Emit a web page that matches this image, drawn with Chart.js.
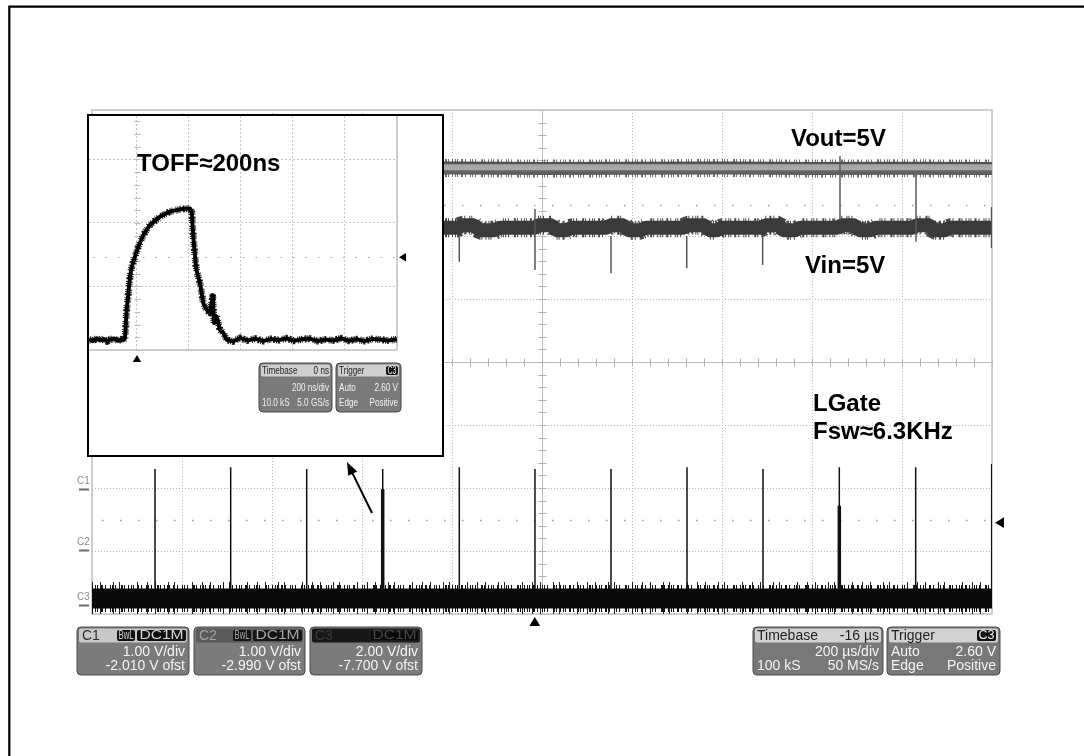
<!DOCTYPE html>
<html>
<head>
<meta charset="utf-8">
<title>LGate switching waveform</title>
<script src="https://cdn.jsdelivr.net/npm/chart.js@4.4.1/dist/chart.umd.min.js"></script>
<style>
html,body{margin:0;padding:0;background:#fff;overflow:hidden;}
#wrap{position:relative;width:1084px;height:756px;}
#main{position:absolute;left:0;top:0;width:1084px;height:756px;}
#insetBox{position:absolute;left:87px;top:114px;width:353px;height:339px;border:2px solid #000;background:#fff;}
#inset{display:block;width:353px;height:339px;}
</style>
</head>
<body>
<div id="wrap">
  <canvas id="main" width="1084" height="756"></canvas>
  <div id="insetBox"><canvas id="inset" width="353" height="339"></canvas></div>
</div>
<script>
// ---------- scope channel setup ----------
const channelNames = ['C1', 'C2', 'C3'];
const voltsPerDiv = [1.00, 1.00, 2.00];
const offsetVolts = [-2.010, -2.990, -7.700];
const channelBadges = [['BwL', 'DC1M'], ['BwL', 'DC1M'], ['DC1M']];
const timebaseInfo = ['Timebase', '-16 µs', '200 µs/div', '100 kS', '50 MS/s'];
const triggerInfo = ['Trigger', 'C3', 'Auto', '2.60 V', 'Edge', 'Positive'];

// ---------- main screen axes ----------
const timeGridUs = [-1000, -800, -600, -400, -200, 0, 200, 400, 600, 800, 1000];
const divGrid = [-4, -3, -2, -1, 0, 1, 2, 3, 4];
const triggerTimeUs = -16;
const triggerLevelV = 2.60;   // on C3

// ---------- Vout (C1) ----------
const voutTimeUs = [-1000, -800, -600, -400, -200, 0, 200, 400, 600, 800, 1000];
const voutVolts  = [5.08, 5.09, 5.08, 5.085, 5.09, 5.08, 5.085, 5.09, 5.08, 5.085, 5.08];
const voutSpikeUs   = [662.2, 831.1];
const voutSpikeHigh = [5.28, 4.98];
const voutSpikeLow  = [4.26, 3.92];

// ---------- Vin (C2) ----------
const vinTimeUs = [-1000, -217.8, -186.7, -177.8, -151.1, -137.8, -106.7, -93.3,
  -15.6, -8.9, 22.2, 31.1, 53.3, 66.7,
  144.4, 151.1, 182.2, 191.1, 217.8, 231.1,
  315.6, 322.2, 362.2, 371.1, 388.9, 400,
  488.9, 495.6, 526.7, 535.6, 562.2, 573.3,
  657.8, 664.4, 695.6, 704.4, 728.9, 742.2,
  824.4, 831.1, 862.2, 871.1, 895.6, 906.7, 1000];
const vinVolts = [5.12, 5.12, 5.12, 5.16, 5.16, 5.08, 5.08, 5.12,
  5.12, 5.16, 5.16, 5.08, 5.08, 5.12,
  5.12, 5.16, 5.16, 5.08, 5.08, 5.12,
  5.12, 5.16, 5.16, 5.08, 5.08, 5.12,
  5.12, 5.16, 5.16, 5.08, 5.08, 5.12,
  5.12, 5.16, 5.16, 5.08, 5.08, 5.12,
  5.12, 5.16, 5.16, 5.08, 5.08, 5.12, 5.12];
const vinSpikeUs   = [-183.8, -15.6, 153.3, 321.6, 490.4, 999];
const vinSpikeHigh = [4.99, 5.42, 4.99, 4.99, 4.99, 5.45];
const vinSpikeLow  = [4.58, 4.45, 4.40, 4.48, 4.53, 4.80];

// ---------- LGate (C3) ----------
const gateTimeUs = [-1000, -500, 0, 500, 1000];
const gateVolts  = [0.19, 0.19, 0.19, 0.19, 0.19];
const gatePulseUs   = [-860, -691.8, -522.9, -354, -183.8, -15.6, 153.3, 322.2, 491.1, 660.7, 830.4, 999.3];
const gatePulsePeak = [4.30, 4.36, 4.30, 4.30, 4.36, 4.30, 4.30, 4.36, 4.30, 4.36, 4.36, 4.46];
const gatePulseBase = 0.50;
const gateWideUs   = [-354, 660.7];
const gateWideTop  = [3.66, 3.14];

// ---------- zoomed inset (C3, 200 ns/div, 2 V/div) ----------
const insetTimeGridNs = [0, 200, 400, 600, 800, 1000];
const insetDivGrid = [0, 1, 2, 3];
const insetVoltsPerDiv = 2.00;
const insetGroundDiv = 0.16;
const insetTimeNs = [-184.6, -170, -155, -142.3, -128, -115, -103.8, -88, -73.1, -60,
  -52.7, -46.2, -39.6, -26.9, -20.4, -7.7, 5.0, 24.2, 50, 88.5,
  126.9, 165.4, 203.8, 210.4, 216.5, 226.9, 231.9, 242.3, 255.0, 268.1,
  280.8, 291.2, 296.2, 306.5, 319.2, 331.9, 345.0, 370, 396, 425,
  455, 485, 515, 545, 575, 605, 635, 665, 695, 725,
  755, 785, 815, 845, 875, 905, 935, 965, 1000];
const insetVolts = [0.02, -0.04, 0.05, -0.02, 0.03, -0.05, 0.01, 0.04, -0.03, 0.02,
  -0.01, 0.05, 0.94, 1.99, 2.30, 2.62, 2.93, 3.30, 3.62, 3.88,
  4.04, 4.11, 4.14, 4.03, 3.25, 2.30, 2.10, 1.79, 1.16, 0.94,
  0.85, 1.36, 0.53, 0.73, 0.31, 0.22, 0.00, -0.05, 0.06, -0.02,
  0.04, -0.04, 0.03, -0.01, 0.05, -0.03, 0.02, 0.04, -0.04, 0.01,
  -0.02, 0.05, -0.03, 0.02, -0.04, 0.03, 0.01, -0.02, 0.02];
const insetTimebase = ['Timebase', '0 ns', '200 ns/div', '10.0 kS', '5.0 GS/s'];
const insetTrigger = ['Trigger', 'C3', 'Auto', '2.60 V', 'Edge', 'Positive'];
const insetTriggerV = 2.60;

// ---------- helpers ----------
const toDiv = (v, ch) => (v + offsetVolts[ch]) / voltsPerDiv[ch];
const toInsetDiv = v => v / insetVoltsPerDiv + insetGroundDiv;
const pts = (xs, ys, ch) => xs.map((x, i) => ({x: x, y: toDiv(ys[i], ch)}));
const segs = (xs, hi, lo, ch) => xs.flatMap((x, i) => [
  {x: x, y: toDiv(hi[i], ch)},
  {x: x, y: toDiv(Array.isArray(lo) ? lo[i] : lo, ch)},
  {x: x, y: null}
]);
const GRASS = [1, 2, 1, 1, 1, 3, 2, 2, 1, 4, 1, 1, 1, 2, 1, 5, 2, 1, 1, 3];
const DENSE = [1, 1, 1, 2, 2, 1, 1, 1, 1, 3, 1, 1];
const SPARSE = [1, 7, 1, 12, 1, 5, 1, 17, 1, 9];
const FONT = "'Liberation Sans', Arial, sans-serif";

function rr(ctx, x, y, w, h, r) {
  ctx.beginPath();
  ctx.moveTo(x + r, y);
  ctx.arcTo(x + w, y, x + w, y + h, r);
  ctx.arcTo(x + w, y + h, x, y + h, r);
  ctx.arcTo(x, y + h, x, y, r);
  ctx.arcTo(x, y, x + w, y, r);
  ctx.closePath();
}
function txt(ctx, s, x, y, font, color, align, sx) {
  ctx.save();
  ctx.font = font; ctx.fillStyle = color;
  ctx.textAlign = align || 'left'; ctx.textBaseline = 'middle';
  ctx.translate(x, y); ctx.scale(sx || 1, 1);
  ctx.fillText(s, 0, 0);
  ctx.restore();
}
function badge(ctx, s, right, y, w, h, fill, color, font, stroke) {
  rr(ctx, right - w, y, w, h, 2);
  ctx.fillStyle = fill; ctx.fill();
  if (stroke) { ctx.strokeStyle = stroke; ctx.lineWidth = 1; ctx.stroke(); }
  ctx.save(); ctx.font = font;
  const tw = ctx.measureText(s).width;
  ctx.restore();
  const sx = Math.min((w - 3) / tw, 1.3);
  txt(ctx, s, right - w / 2, y + h / 2 + 0.5, font, color, 'center', sx);
}
function infoBox(ctx, x, y, w, h, headColor, opt) {
  rr(ctx, x, y, w, h, 4);
  ctx.fillStyle = opt.body || '#7a7a7a'; ctx.fill();
  ctx.strokeStyle = '#4a4a4a'; ctx.lineWidth = 1; ctx.stroke();
  rr(ctx, x + 2, y + 1.5, w - 4, opt.headH, 2);
  ctx.fillStyle = headColor; ctx.fill();
}
function tri(ctx, x, y, dir, s) {
  ctx.beginPath();
  if (dir === 'up') { ctx.moveTo(x, y); ctx.lineTo(x - s * 0.6, y + s); ctx.lineTo(x + s * 0.6, y + s); }
  else { ctx.moveTo(x, y); ctx.lineTo(x + s, y - s * 0.6); ctx.lineTo(x + s, y + s * 0.6); }
  ctx.closePath(); ctx.fillStyle = '#000'; ctx.fill();
}

// ---------- main chart decorations ----------
const mainDecor = {
  id: 'mainDecor',
  beforeDatasetsDraw(chart) {
    const {ctx, chartArea: a, scales: {x, y}} = chart;
    ctx.save();
    const L = (x1, y1, x2, y2) => { ctx.beginPath(); ctx.moveTo(x1, y1); ctx.lineTo(x2, y2); ctx.stroke(); };
    ctx.strokeStyle = '#9c9c9c'; ctx.lineWidth = 1.3; ctx.setLineDash([1.5, 16.5]);
    [2.5, -2.5].forEach(v => { const py = Math.round(y.getPixelForValue(v)) + 0.5; L(a.left + 10, py, a.right, py); });
    ctx.setLineDash([]);
    const cx = Math.round(x.getPixelForValue(0)) + 0.5, cy = Math.round(y.getPixelForValue(0)) + 0.5;
    ctx.strokeStyle = '#bcbcbc'; ctx.lineWidth = 1;
    L(cx, a.top, cx, a.bottom); L(a.left, cy, a.right, cy);
    ctx.strokeStyle = '#b0b0b0';
    for (let d = -4; d <= 4.001; d += 0.2) { const py = Math.round(y.getPixelForValue(d)) + 0.5; L(cx - 4, py, cx + 4, py); }
    for (let t = -1000; t <= 1000.1; t += 40) { const px = Math.round(x.getPixelForValue(t)) + 0.5; L(px, cy - 4, px, cy + 4); }
    ctx.strokeStyle = '#c2c2c2'; ctx.lineWidth = 1.5;
    ctx.strokeRect(a.left, a.top, a.right - a.left, a.bottom - a.top);
    ctx.restore();
  },
  afterDraw(chart) {
    const {ctx, chartArea: a, scales: {x, y}} = chart;
    ctx.save();
    channelNames.forEach((n, i) => {
      const gy = Math.round(y.getPixelForValue(offsetVolts[i] / voltsPerDiv[i]));
      txt(ctx, n, a.left - 15, gy - 8, '10px ' + FONT, '#8c8c8c', 'left', 1);
      ctx.strokeStyle = '#6a6a6a'; ctx.lineWidth = 2;
      ctx.beginPath(); ctx.moveTo(a.left - 13, gy + 0.5); ctx.lineTo(a.left - 3, gy + 0.5); ctx.stroke();
    });
    tri(ctx, x.getPixelForValue(triggerTimeUs), a.bottom + 3, 'up', 9);
    tri(ctx, a.right + 3, y.getPixelForValue(toDiv(triggerLevelV, 2)), 'left', 9);

    const bx = [77, 194, 310], bw = [112, 111, 112], by = 627, bh = 48;
    const headC = ['#c8c8c8', '#5a5a5a', '#171717'];
    const nameC = ['#303030', '#a2a2a2', '#3a3a3a'];
    const badgeF = ['#111', '#141414', '#0a0a0a'];
    const badgeT = ['#d4d4d4', '#a8a8a8', '#464646'];
    channelNames.forEach((n, i) => {
      infoBox(ctx, bx[i], by, bw[i], bh, headC[i], {headH: 14, body: '#7b7b7b'});
      txt(ctx, n, bx[i] + 5, by + 9, '14px ' + FONT, nameC[i], 'left', 1);
      let right = bx[i] + bw[i] - 3;
      channelBadges[i].slice().reverse().forEach(b => {
        const w = b === 'DC1M' ? 49 : 18;
        badge(ctx, b, right, by + 3, w, 11, badgeF[i], badgeT[i], '12px ' + FONT, i === 2 ? '#2a2a2a' : null);
        right -= w + 2;
      });
      txt(ctx, voltsPerDiv[i].toFixed(2) + ' V/div', bx[i] + bw[i] - 4, by + 25, '14px ' + FONT, '#f4f4f4', 'right', 1);
      txt(ctx, offsetVolts[i].toFixed(3) + ' V ofst', bx[i] + bw[i] - 4, by + 39.5, '14px ' + FONT, '#f4f4f4', 'right', 1);
    });
    infoBox(ctx, 753, by, 130, bh, '#d2d2d2', {headH: 14, body: '#787878'});
    txt(ctx, timebaseInfo[0], 757, by + 9, '14px ' + FONT, '#1e1e1e', 'left', 1);
    txt(ctx, timebaseInfo[1], 879, by + 9, '14px ' + FONT, '#1e1e1e', 'right', 1);
    txt(ctx, timebaseInfo[2], 879, by + 25, '14px ' + FONT, '#f4f4f4', 'right', 1);
    txt(ctx, timebaseInfo[3], 757, by + 39.5, '14px ' + FONT, '#f4f4f4', 'left', 1);
    txt(ctx, timebaseInfo[4], 879, by + 39.5, '14px ' + FONT, '#f4f4f4', 'right', 1);
    infoBox(ctx, 887, by, 113, bh, '#d2d2d2', {headH: 14, body: '#787878'});
    txt(ctx, triggerInfo[0], 891, by + 9, '14px ' + FONT, '#1e1e1e', 'left', 1);
    badge(ctx, triggerInfo[1], 996, by + 3, 19, 11, '#111', '#f0f0f0', '12px ' + FONT, null);
    txt(ctx, triggerInfo[2], 891, by + 25, '14px ' + FONT, '#f4f4f4', 'left', 1);
    txt(ctx, triggerInfo[3], 996, by + 25, '14px ' + FONT, '#f4f4f4', 'right', 1);
    txt(ctx, triggerInfo[4], 891, by + 39.5, '14px ' + FONT, '#f4f4f4', 'left', 1);
    txt(ctx, triggerInfo[5], 996, by + 39.5, '14px ' + FONT, '#f4f4f4', 'right', 1);

    const notes = [
      ['Vout=5V', 553.3, 3.429], ['Vin=5V', 584.4, 1.413],
      ['LGate', 602.2, -0.778], ['Fsw\u22486.3KHz', 602.2, -1.222]
    ];
    ctx.font = 'bold 24px ' + FONT; ctx.fillStyle = '#000'; ctx.textAlign = 'left'; ctx.textBaseline = 'alphabetic';
    notes.forEach(n => ctx.fillText(n[0], x.getPixelForValue(n[1]), y.getPixelForValue(n[2])));

    const x0 = x.getPixelForValue(-377.8), y0 = y.getPixelForValue(-2.397);
    const x1 = x.getPixelForValue(-433.3), y1 = y.getPixelForValue(-1.587);
    const ang = Math.atan2(y1 - y0, x1 - x0);
    ctx.strokeStyle = '#000'; ctx.lineWidth = 2;
    ctx.beginPath(); ctx.moveTo(x0, y0); ctx.lineTo(x1 - 9 * Math.cos(ang), y1 - 9 * Math.sin(ang)); ctx.stroke();
    ctx.beginPath(); ctx.moveTo(x1, y1);
    ctx.lineTo(x1 - 13 * Math.cos(ang) + 5 * Math.sin(ang), y1 - 13 * Math.sin(ang) - 5 * Math.cos(ang));
    ctx.lineTo(x1 - 13 * Math.cos(ang) - 5 * Math.sin(ang), y1 - 13 * Math.sin(ang) + 5 * Math.cos(ang));
    ctx.closePath(); ctx.fillStyle = '#000'; ctx.fill();

    ctx.strokeStyle = '#000'; ctx.lineWidth = 2.2;
    ctx.beginPath(); ctx.moveTo(9.3, 756); ctx.lineTo(9.3, 6.7); ctx.lineTo(1084, 6.7); ctx.stroke();
    ctx.restore();
  }
};

function voutGradient(c) {
  const ch = c.chart, ys = ch.scales && ch.scales.y;
  if (!ys || !ch.chartArea) return '#9a9a9a';
  const yc = ys.getPixelForValue(toDiv(voutVolts[0], 0));
  const g = ch.ctx.createLinearGradient(0, yc - 6.5, 0, yc + 6.5);
  g.addColorStop(0, '#4c4c4c'); g.addColorStop(0.14, '#585858');
  g.addColorStop(0.2, '#a4a4a4'); g.addColorStop(0.6, '#ababab');
  g.addColorStop(0.66, '#666'); g.addColorStop(1, '#5a5a5a');
  return g;
}

const lineBase = {pointRadius: 0, fill: false, spanGaps: false, tension: 0};
const voutPts = pts(voutTimeUs, voutVolts, 0);
const vinPts = pts(vinTimeUs, vinVolts, 1);
const gatePts = pts(gateTimeUs, gateVolts, 2);

new Chart(document.getElementById('main'), {
  type: 'line',
  data: {
    datasets: [
      Object.assign({label: 'LGate spikes', data: segs(gatePulseUs, gatePulsePeak, gatePulseBase, 2), borderColor: '#111', borderWidth: 1.5, order: 0}, lineBase),
      Object.assign({label: 'LGate wide', data: segs(gateWideUs, gateWideTop, gatePulseBase, 2), borderColor: '#111', borderWidth: 3.5, order: 0}, lineBase),
      Object.assign({label: 'Vin spikes', data: segs(vinSpikeUs, vinSpikeHigh, vinSpikeLow, 1), borderColor: '#555', borderWidth: 1.5, order: 0}, lineBase),
      Object.assign({label: 'Vout spikes', data: segs(voutSpikeUs, voutSpikeHigh, voutSpikeLow, 0), borderColor: '#5a5a5a', borderWidth: 1.5, order: 1}, lineBase),
      Object.assign({label: 'Vout', data: voutPts, borderColor: voutGradient, borderWidth: 13, order: 2}, lineBase),
      Object.assign({label: 'Vout noise', data: voutPts, borderColor: '#6c6c6c', borderWidth: 18, borderDash: GRASS, order: 3}, lineBase),
      Object.assign({label: 'Vin', data: vinPts, borderColor: '#3a3a3a', borderWidth: 14, borderJoinStyle: 'bevel', order: 2}, lineBase),
      Object.assign({label: 'Vin noise', data: vinPts, borderColor: '#484848', borderWidth: 19, borderDash: GRASS, borderJoinStyle: 'bevel', order: 3}, lineBase),
      Object.assign({label: 'LGate', data: gatePts, borderColor: '#0a0a0a', borderWidth: 20, order: 2}, lineBase),
      Object.assign({label: 'LGate noise', data: gatePts, borderColor: '#111', borderWidth: 27, borderDash: GRASS, order: 3}, lineBase),
      Object.assign({label: 'LGate noise 2', data: gatePts, borderColor: '#222', borderWidth: 33, borderDash: SPARSE, order: 4}, lineBase)
    ]
  },
  options: {
    responsive: false, animation: false,
    layout: {padding: {left: 92, right: 92, top: 110, bottom: 142}, autoPadding: false},
    plugins: {legend: {display: false}, tooltip: {enabled: false}, title: {display: false}},
    scales: {
      x: {type: 'linear', min: -1000, max: 1000,
          afterBuildTicks: s => { s.ticks = timeGridUs.map(v => ({value: v})); },
          ticks: {display: false}, grid: {color: '#b6b6b6', lineWidth: 1, drawTicks: false},
          border: {display: false, dash: [1, 2]}},
      y: {type: 'linear', min: -4, max: 4,
          afterBuildTicks: s => { s.ticks = divGrid.map(v => ({value: v})); },
          ticks: {display: false}, grid: {color: '#b6b6b6', lineWidth: 1, drawTicks: false},
          border: {display: false, dash: [1, 2]}}
    }
  },
  plugins: [mainDecor]
});

// ---------- inset chart ----------
const insetDecor = {
  id: 'insetDecor',
  beforeDatasetsDraw(chart) {
    const {ctx, chartArea: a, scales: {x, y}} = chart;
    ctx.save();
    const L = (x1, y1, x2, y2) => { ctx.beginPath(); ctx.moveTo(x1, y1); ctx.lineTo(x2, y2); ctx.stroke(); };
    const ty = Math.round(y.getPixelForValue(toInsetDiv(insetTriggerV))) + 0.5;
    ctx.strokeStyle = '#a0a0a0'; ctx.lineWidth = 1.2; ctx.setLineDash([1.5, 11]);
    L(a.left + 4, ty, a.right, ty);
    ctx.setLineDash([]);
    const cx = Math.round(x.getPixelForValue(0)) + 0.5;
    ctx.strokeStyle = '#b8b8b8'; ctx.lineWidth = 1;
    for (let d = 0; d <= 3.7; d += 0.2) { const py = Math.round(y.getPixelForValue(d)) + 0.5; L(cx - 3, py, cx + 3, py); }
    ctx.strokeStyle = '#c0c0c0'; ctx.lineWidth = 1.5;
    L(a.right, a.top, a.right, a.bottom); L(a.left, a.bottom, a.right, a.bottom);
    ctx.restore();
  },
  afterDraw(chart) {
    const {ctx, chartArea: a, scales: {x, y}} = chart;
    ctx.save();
    tri(ctx, x.getPixelForValue(0), a.bottom + 5, 'up', 7);
    tri(ctx, a.right + 2, y.getPixelForValue(toInsetDiv(insetTriggerV)), 'left', 7);
    ctx.font = 'bold 24px ' + FONT; ctx.fillStyle = '#000'; ctx.textBaseline = 'alphabetic';
    ctx.fillText('TOFF\u2248200ns', x.getPixelForValue(0), y.getPixelForValue(2.819));
    const f = '11px ' + FONT, sx = 0.74;
    const by = a.bottom + 13;
    infoBox(ctx, 170, by, 73, 49, '#cfcfcf', {headH: 12, body: '#7a7a7a'});
    txt(ctx, insetTimebase[0], 173, by + 8, f, '#222', 'left', sx);
    txt(ctx, insetTimebase[1], 240, by + 8, f, '#222', 'right', sx);
    txt(ctx, insetTimebase[2], 240, by + 25, f, '#f2f2f2', 'right', sx);
    txt(ctx, insetTimebase[3], 173, by + 40, f, '#f2f2f2', 'left', sx);
    txt(ctx, insetTimebase[4], 240, by + 40, f, '#f2f2f2', 'right', sx);
    infoBox(ctx, 247, by, 65, 49, '#cfcfcf', {headH: 12, body: '#7a7a7a'});
    txt(ctx, insetTrigger[0], 250, by + 8, f, '#222', 'left', sx);
    badge(ctx, insetTrigger[1], 309, by + 3, 12, 9, '#111', '#eee', '10px ' + FONT, null);
    txt(ctx, insetTrigger[2], 250, by + 25, f, '#f2f2f2', 'left', sx);
    txt(ctx, insetTrigger[3], 309, by + 25, f, '#f2f2f2', 'right', sx);
    txt(ctx, insetTrigger[4], 250, by + 40, f, '#f2f2f2', 'left', sx);
    txt(ctx, insetTrigger[5], 309, by + 40, f, '#f2f2f2', 'right', sx);
    ctx.restore();
  }
};

const insetPts = insetTimeNs.map((t, i) => ({x: t, y: toInsetDiv(insetVolts[i])}));

new Chart(document.getElementById('inset'), {
  type: 'line',
  data: {
    datasets: [
      Object.assign({label: 'LGate (zoom)', data: insetPts, borderColor: '#000', borderWidth: 4, borderJoinStyle: 'round', order: 0}, lineBase),
      Object.assign({label: 'LGate (zoom) noise', data: insetPts, borderColor: '#1a1a1a', borderWidth: 7, borderDash: DENSE, borderJoinStyle: 'round', order: 1}, lineBase)
    ]
  },
  options: {
    responsive: false, animation: false,
    layout: {padding: {left: 0, right: 45, top: 0, bottom: 105}, autoPadding: false},
    plugins: {legend: {display: false}, tooltip: {enabled: false}},
    scales: {
      x: {type: 'linear', min: -184.6, max: 1000,
          afterBuildTicks: s => { s.ticks = insetTimeGridNs.map(v => ({value: v})); },
          ticks: {display: false}, grid: {color: '#c4c4c4', lineWidth: 1, drawTicks: false},
          border: {display: false, dash: [2, 2]}},
      y: {type: 'linear', min: 0, max: 3.685,
          afterBuildTicks: s => { s.ticks = insetDivGrid.map(v => ({value: v})); },
          ticks: {display: false}, grid: {color: '#c4c4c4', lineWidth: 1, drawTicks: false},
          border: {display: false, dash: [2, 2]}}
    }
  },
  plugins: [insetDecor]
});
</script>
</body>
</html>
